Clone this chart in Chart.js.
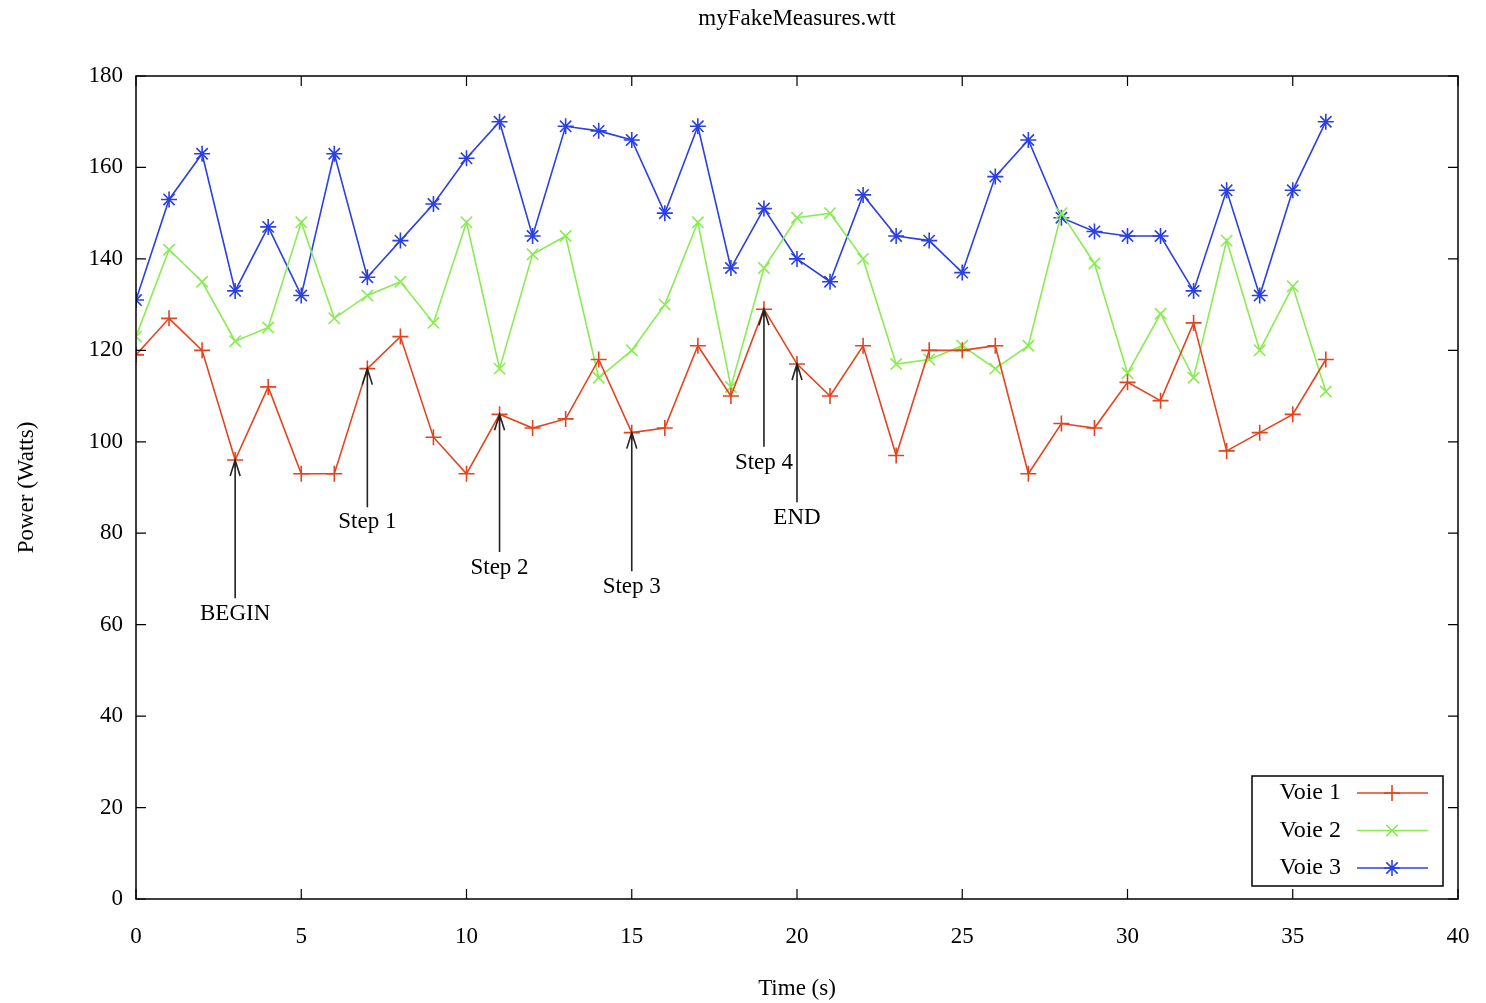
<!DOCTYPE html>
<html>
<head>
<meta charset="utf-8">
<script src="https://cdn.jsdelivr.net/npm/chart.js@4.4.1/dist/chart.umd.min.js"></script>
<style>
  html,body{margin:0;padding:0;background:#fff;}
  #wrap{width:1486px;height:1003px;}
</style>
</head>
<body>
<div id="wrap"><canvas id="c" width="1486" height="1003"></canvas></div>
<script>
// data
const times = [0,1,2,3,4,5,6,7,8,9,10,11,12,13,14,15,16,17,18,19,20,21,22,23,24,25,26,27,28,29,30,31,32,33,34,35,36];
const voie1 = [119,127,120,96,112,93,93,116,123,101,93,106,103,105,118,102,103,121,110,129,117,110,121,97,120,120,121,93,104,103,113,109,126,98,102,106,118];
const voie2 = [123,142,135,122,125,148,127,132,135,126,148,116,141,145,114,120,130,148,112,138,149,150,140,117,118,121,116,121,150,139,115,128,114,144,120,134,111];
const voie3 = [131,153,163,133,147,132,163,136,144,152,162,170,145,169,168,166,150,169,138,151,140,135,154,145,144,137,158,166,149,146,145,145,133,155,132,155,170];

const seriesNames = ['Voie 1','Voie 2','Voie 3'];
const seriesColors = ['#e2441f','#8aec52','#2b40e0'];
const seriesMarkers = ['cross','crossRot','star'];

// annotations: label, x, label y, arrow tail y (head sits on Voie 1)
const annoLabels = ['BEGIN','Step 1','Step 2','Step 3','Step 4','END'];
const annoX      = [3, 7, 11, 15, 19, 20];
const annoTextY  = [62.3, 82.5, 72.4, 68.2, 95.4, 83.3];
const annoTailY  = [65.8, 85.7, 75.9, 71.7, 98.9, 86.8];

const xTicksMax = 40, yTicksMax = 180;
const FONT = '"Liberation Serif", "DejaVu Serif", serif';
const FS = 23;

const datasets = [voie1, voie2, voie3].map((vals, i)=>({
  label: seriesNames[i],
  data: times.map((t, k)=>({x:t, y:vals[k]})),
  borderColor: seriesColors[i],
  backgroundColor: seriesColors[i],
  borderWidth: 1.6,
  pointStyle: seriesMarkers[i],
  pointRadius: 8,
  pointBorderWidth: 1.6,
  pointHoverRadius: 8,
  tension: 0,
  fill: false
}));

// border box with inward, mirrored ticks (gnuplot look)
const frame = {
  id:'frame',
  afterDatasetsDraw(chart){
    const {ctx, chartArea:a, scales:{x, y}} = chart;
    ctx.save();
    ctx.strokeStyle = '#000'; ctx.lineWidth = 1.5;
    ctx.strokeRect(a.left, a.top, a.right-a.left, a.bottom-a.top);
    ctx.lineWidth = 1.2;
    ctx.beginPath();
    x.ticks.forEach(t=>{
      const px = x.getPixelForValue(t.value);
      ctx.moveTo(px, a.bottom); ctx.lineTo(px, a.bottom-10);
      ctx.moveTo(px, a.top); ctx.lineTo(px, a.top+10);
    });
    y.ticks.forEach(t=>{
      const py = y.getPixelForValue(t.value);
      ctx.moveTo(a.left, py); ctx.lineTo(a.left+10, py);
      ctx.moveTo(a.right, py); ctx.lineTo(a.right-10, py);
    });
    ctx.stroke();
    ctx.restore();
  }
};

// arrows + step labels
const arrows = {
  id:'arrows',
  afterDatasetsDraw(chart){
    const {ctx, scales:{x, y}} = chart;
    ctx.save();
    ctx.strokeStyle = '#222'; ctx.lineWidth = 1.6;
    ctx.fillStyle = '#000';
    ctx.font = FS + 'px ' + FONT;
    ctx.textAlign = 'center'; ctx.textBaseline = 'middle';
    annoLabels.forEach((lab, i)=>{
      const px = x.getPixelForValue(annoX[i]);
      const tail = y.getPixelForValue(annoTailY[i]);
      const head = y.getPixelForValue(voie1[times.indexOf(annoX[i])]);
      ctx.beginPath();
      ctx.moveTo(px, tail); ctx.lineTo(px, head);
      ctx.moveTo(px-5, head+16); ctx.lineTo(px, head); ctx.lineTo(px+5, head+16);
      ctx.stroke();
      ctx.fillText(lab, px, y.getPixelForValue(annoTextY[i]));
    });
    ctx.restore();
  }
};

// key box in the lower right corner
const keyBox = {
  id:'keyBox',
  afterDraw(chart){
    const {ctx} = chart;
    const bx = 1252, by = 776, bw = 191, bh = 110;
    ctx.save();
    ctx.fillStyle = '#fff';
    ctx.fillRect(bx, by, bw, bh);
    ctx.strokeStyle = '#000'; ctx.lineWidth = 1.5;
    ctx.strokeRect(bx, by, bw, bh);
    ctx.font = (FS+1) + 'px ' + FONT;
    ctx.textAlign = 'right'; ctx.textBaseline = 'middle';
    chart.data.datasets.forEach((ds, i)=>{
      const ry = by + 17 + i*37.5;
      ctx.fillStyle = '#000';
      ctx.fillText(ds.label, 1341, ry);
      ctx.strokeStyle = ds.borderColor; ctx.lineWidth = 1.6;
      ctx.beginPath(); ctx.moveTo(1357, ry); ctx.lineTo(1428, ry); ctx.stroke();
      Chart.helpers.drawPoint(ctx, {pointStyle: ds.pointStyle, radius: 8, borderWidth: 1.6}, 1392, ry);
    });
    ctx.restore();
  }
};

const bg = {
  id:'bg',
  beforeDraw(chart){
    const {ctx, width, height} = chart;
    ctx.save(); ctx.fillStyle = '#fff'; ctx.fillRect(0,0,width,height); ctx.restore();
  }
};

new Chart(document.getElementById('c'), {
  type:'line',
  data:{ datasets },
  plugins:[bg, frame, arrows, keyBox],
  options:{
    responsive:false,
    animation:false,
    layout:{ padding:{ left:0, right:28, top:0, bottom:0 } },
    plugins:{
      legend:{ display:false },
      tooltip:{ enabled:false },
      title:{
        display:true,
        fullSize:false,
        text:'myFakeMeasures.wtt',
        color:'#000',
        font:{ family:FONT, size:FS, weight:'normal' },
        padding:{ top:5, bottom:43.4 }
      }
    },
    scales:{
      x:{
        type:'linear', min:0, max:xTicksMax,
        grid:{ display:false, drawTicks:false },
        border:{ display:false },
        ticks:{ stepSize:5, color:'#000', padding:24, font:{ family:FONT, size:FS } },
        title:{ display:true, text:'Time (s)', color:'#000', font:{ family:FONT, size:FS }, padding:{ top:0, bottom:0 } },
        afterFit(s){ s.height = 104; s.paddingRight = 0; }
      },
      y:{
        min:0, max:yTicksMax,
        grid:{ display:false, drawTicks:false },
        border:{ display:false },
        ticks:{ stepSize:20, color:'#000', padding:13, font:{ family:FONT, size:FS } },
        title:{ display:true, text:'Power (Watts)', color:'#000', font:{ family:FONT, size:FS }, padding:{ top:13, bottom:0 } },
        afterFit(s){ s.width = 136; }
      }
    }
  }
});
</script>
</body>
</html>
